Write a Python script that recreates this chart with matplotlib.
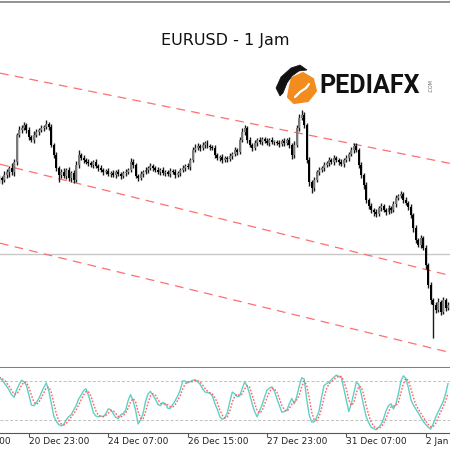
import matplotlib
matplotlib.use("Agg")
import matplotlib.pyplot as plt
import matplotlib.transforms as mtransforms
from matplotlib.patches import Polygon
import numpy as np
import pandas as pd

# harga penutupan per bar (pip di atas 1.0000), H1
close_pips = [
    372, 370, 375, 378, 382, 378, 388, 415, 420, 422,
    425, 420, 413, 410, 415, 418, 420, 422, 423, 426,
    423, 405, 395, 382, 375, 378, 374, 380, 372, 377,
    370, 385, 395, 392, 390, 388, 387, 385, 388, 384,
    382, 380, 378, 379, 376, 377, 375, 378, 376, 374,
    377, 378, 380, 388, 385, 374, 372, 376, 378, 380,
    382, 384, 382, 380, 378, 380, 377, 378, 376, 379,
    378, 375, 377, 380, 382, 384, 383, 390, 400, 402,
    404, 402, 405, 407, 404, 403, 402, 395, 392, 393,
    390, 392, 391, 394, 396, 400, 398, 410, 418, 422,
    410, 405, 402, 407, 410, 408, 411, 409, 407, 410,
    408, 408, 407, 406, 409, 407, 410, 405, 395, 405,
    422, 432, 435, 425, 390, 368, 362, 370, 378, 380,
    382, 385, 387, 390, 388, 392, 390, 388, 386, 390,
    392, 396, 400, 404, 400, 385, 375, 365, 350, 344,
    340, 338, 336, 342, 344, 340, 338, 342, 340, 346,
    352, 354, 356, 350, 347, 343, 335, 322, 310, 305,
    312, 302, 285, 265, 250, 245, 240, 248, 238, 250,
    242, 245,
]
first_open_pips = 370

# panjang sumbu atas / bawah (pip)
wick_up = [
    3, 2, 4, 3, 2, 5, 3, 2, 4, 3, 3, 2, 3, 2, 4, 3, 2, 3, 2, 4,
    2, 3, 2, 3, 2, 3, 4, 2, 3, 2, 3, 4, 5, 2, 3, 2, 3, 2, 2, 3,
    2, 3, 2, 2, 3, 2, 3, 2, 3, 2, 2, 3, 2, 4, 3, 2, 2, 3, 2, 3,
    2, 3, 2, 2, 3, 2, 3, 2, 2, 3, 2, 3, 2, 2, 3, 2, 3, 2, 3, 4,
    3, 2, 3, 2, 3, 2, 2, 3, 2, 2, 3, 2, 2, 3, 2, 3, 2, 3, 4, 3,
    2, 3, 2, 3, 2, 3, 2, 2, 3, 2, 3, 2, 2, 3, 2, 3, 2, 3, 2, 4,
    3, 4, 5, 3, 2, 3, 2, 3, 2, 3, 2, 3, 2, 3, 2, 3, 2, 2, 3, 2,
    3, 2, 3, 3, 3, 2, 3, 2, 3, 2, 3, 2, 3, 2, 3, 2, 2, 3, 2, 3,
    3, 2, 3, 2, 3, 2, 3, 2, 3, 2, 3, 2, 3, 2, 3, 2, 3, 4, 2, 3,
    2, 3,
]
wick_dn = [
    3, 4, 2, 3, 5, 3, 4, 3, 2, 3, 2, 3, 3, 2, 3, 2, 3, 2, 3, 2,
    3, 2, 3, 3, 7, 3, 2, 3, 3, 4, 3, 2, 3, 2, 3, 2, 3, 2, 3, 2,
    3, 2, 3, 2, 2, 3, 2, 3, 2, 3, 2, 3, 2, 2, 3, 2, 3, 2, 3, 2,
    3, 2, 3, 2, 2, 3, 2, 3, 2, 3, 2, 3, 2, 3, 2, 3, 2, 3, 2, 2,
    2, 3, 2, 3, 2, 3, 2, 3, 2, 3, 3, 2, 3, 2, 3, 2, 3, 2, 2, 3,
    3, 2, 3, 2, 3, 2, 3, 2, 2, 3, 2, 3, 2, 3, 2, 3, 2, 3, 4, 3,
    2, 3, 2, 3, 3, 4, 5, 3, 2, 3, 2, 3, 2, 3, 2, 3, 2, 3, 2, 3,
    2, 3, 2, 3, 2, 3, 3, 4, 3, 3, 3, 4, 3, 2, 3, 2, 3, 2, 3, 2,
    3, 2, 2, 3, 2, 3, 3, 4, 3, 2, 3, 2, 4, 3, 4, 33, 3, 2, 3, 2,
    3, 2,
]

# Stochastic %K per bar
stoch_k = [
    86, 82, 77, 72, 66, 59, 55, 66, 74, 81,
    79, 73, 58, 43, 42, 47, 53, 62, 70, 77,
    65, 46, 26, 18, 13, 11, 13, 20, 25, 28,
    35, 42, 52, 58, 65, 68, 58, 45, 31, 26,
    25, 26, 25, 30, 37, 36, 30, 24, 22, 28,
    30, 35, 50, 59, 50, 35, 14, 20, 30, 48,
    60, 64, 58, 52, 44, 42, 47, 45, 38, 38,
    44, 50, 57, 66, 80, 80, 77, 79, 81, 82,
    79, 75, 68, 63, 62, 61, 57, 45, 36, 25,
    21, 23, 31, 48, 63, 60, 56, 57, 68, 79,
    72, 60, 45, 33, 25, 34, 43, 55, 66, 69,
    71, 64, 53, 42, 32, 33, 35, 45, 53, 45,
    56, 72, 85, 83, 52, 28, 17, 17, 24, 34,
    55, 73, 76, 78, 82, 86, 89, 87, 85, 68,
    50, 33, 45, 61, 78, 75, 60, 42, 25, 16,
    9, 7, 5, 9, 13, 22, 34, 42, 45, 37,
    45, 60, 80, 88, 84, 70, 52, 43, 37, 31,
    24, 18, 13, 9, 6, 14, 24, 32, 40, 48,
    60, 76,
]
stoch_levels = [20, 80]

tick_bars = [-20, 12, 44, 76, 108, 140, 172]
tick_labels = ["19 Dec 15:00", "20 Dec 23:00", "24 Dec 07:00", "26 Dec 15:00",
               "27 Dec 23:00", "31 Dec 07:00", "2 Jan 15:00"]

# garis channel (bar, harga)
channel_upper = [(0, 1.0477), (181, 1.0387)]
channel_mid = [(0, 1.0386), (181, 1.0275)]
channel_low = [(0, 1.0307), (181, 1.0198)]
hline_price = 1.0296

close = 1 + np.array(close_pips) / 10000
open_ = np.r_[1 + first_open_pips / 10000, close[:-1]]
high = np.maximum(open_, close) + np.array(wick_up) / 10000
low = np.minimum(open_, close) - np.array(wick_dn) / 10000
x = np.arange(len(close))

stoch_d = pd.Series(stoch_k).rolling(3, min_periods=1).mean()

fig = plt.figure(figsize=(4.5, 4.5), dpi=100)
fig.patch.set_facecolor("white")

xlim = (0.32, 181.8)

# --- panel harga ---
ax = fig.add_axes([0, 82 / 450, 1, 366 / 450])
ax.set_xlim(*xlim)
ax.set_ylim(1.0182, 1.0548)
ax.axhline(hline_price, color="#c8c8c8", lw=1.0, zorder=1)
for (x0, y0), (x1, y1) in [channel_upper, channel_mid, channel_low]:
    ax.axline((x0, y0), (x1, y1), color="#ff6f6f", lw=0.9,
              linestyle=(0, (7, 5)), zorder=2)

ax.vlines(x, low, high, color="#1a1a1a", lw=1.0, zorder=3)
up = close >= open_
body_h = np.where(np.abs(close - open_) < 0.00008, 0.00008, close - open_)
ax.bar(x[up], body_h[up], bottom=open_[up], width=0.8, color="#7a7a7a",
       edgecolor="none", zorder=4)
ax.bar(x[~up], body_h[~up], bottom=open_[~up], width=0.8, color="#000000",
       edgecolor="none", zorder=4)

ax.set_xticks([])
ax.set_yticks([])
ax.spines["left"].set_visible(False)
ax.spines["right"].set_visible(False)
ax.spines["top"].set_color("#808080")
ax.spines["top"].set_linewidth(1.2)
ax.spines["bottom"].set_color("#808080")
ax.spines["bottom"].set_linewidth(2.2)

# --- panel stochastic ---
ax2 = fig.add_axes([0, 17 / 450, 1, 65 / 450])
ax2.set_xlim(*xlim)
ax2.set_ylim(0, 100)
for lv in stoch_levels:
    ax2.axhline(lv, color="#c0c0c0", lw=0.7, linestyle=(0, (3, 2)))
ax2.plot(x, stoch_k, color="#5fd0c6", lw=1.0)
ax2.plot(x, stoch_d, color="#ff6060", lw=1.0, linestyle=(0, (1.2, 1.2)))
ax2.set_yticks([])
ax2.spines["left"].set_visible(False)
ax2.spines["right"].set_visible(False)
ax2.spines["top"].set_visible(False)
ax2.spines["bottom"].set_color("#555555")
ax2.spines["bottom"].set_linewidth(0.8)
ax2.set_xticks([b for b in tick_bars if xlim[0] <= b <= xlim[1]])
ax2.tick_params(axis="x", length=3, color="#555555", labelbottom=False)
trans = mtransforms.blended_transform_factory(ax2.transData, ax2.transAxes)
for b, lab in zip(tick_bars, tick_labels):
    ax2.text(b, -0.06, lab, transform=trans, ha="left", va="top",
             fontsize=6.5, color="#222222", clip_on=False)

# --- judul dan logo ---
ov = fig.add_axes([0, 0, 1, 1], zorder=10)
ov.set_xlim(0, 450)
ov.set_ylim(450, 0)
ov.axis("off")
ov.patch.set_alpha(0)
ov.text(225, 40, "EURUSD - 1 Jam", ha="center", va="center",
        fontsize=11.5, color="#111111")

orange = [(292, 78), (303, 73), (313, 79), (316, 91), (308, 101),
          (294, 103), (288, 97), (290, 86)]
ov.add_patch(Polygon(orange, closed=True, facecolor="#f28c1e",
                     edgecolor="#f28c1e", lw=1.5, joinstyle="round"))
ov.plot([295, 300, 306, 309], [97, 92, 88, 84], color="white", lw=1.6,
        solid_capstyle="round")
wing = [(276, 88), (281, 77), (291, 68), (300, 65), (307, 70), (299, 71),
        (292, 76), (287, 83), (283, 93), (280, 96)]
ov.add_patch(Polygon(wing, closed=True, facecolor="#111111",
                     edgecolor="#111111", lw=0.5))
ov.text(319, 86, "PEDIAFX", ha="left", va="center", fontsize=18,
        fontfamily="Roboto", fontweight="bold", color="#111111")
ov.text(431, 86, ".COM", ha="center", va="center", fontsize=3.5,
        rotation=90, color="#666666")

fig.savefig("out.png", dpi=100)
